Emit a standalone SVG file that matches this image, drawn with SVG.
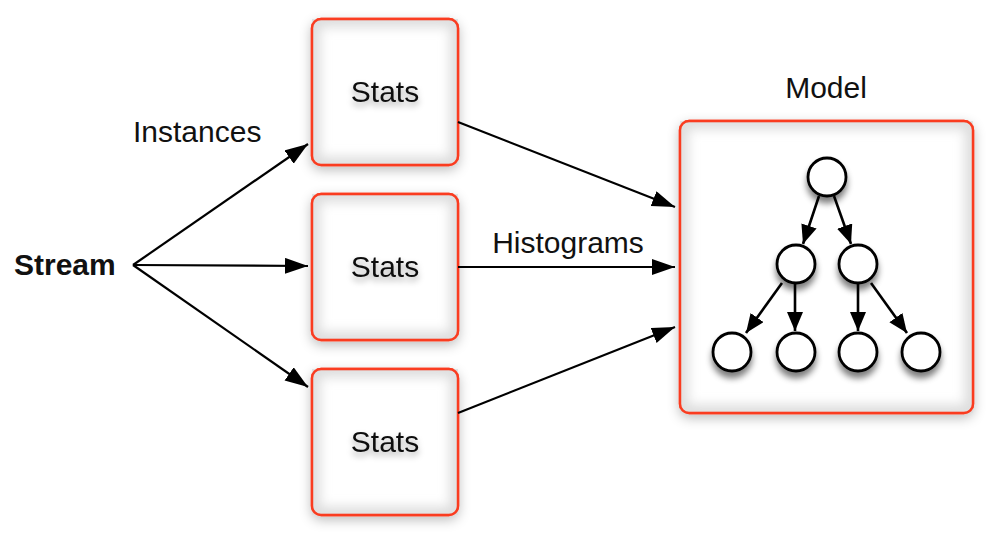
<svg xmlns="http://www.w3.org/2000/svg" width="1000" height="552" viewBox="0 0 1000 552">
<defs>
<style>
.box{fill:#fff;stroke:#fa3c20;stroke-width:2.4}
.inner{fill:none;stroke:#dcdcdc;stroke-width:16}
.lbl{font-family:"Liberation Sans",Arial,sans-serif;font-size:30px;fill:#111}
.edge{stroke:#000;stroke-width:2.2;fill:none}
.tedge{stroke:#000;stroke-width:2.6;fill:none}
.node{fill:#fff;stroke:#000;stroke-width:2.8}
</style>
<marker id="ah" markerUnits="userSpaceOnUse" markerWidth="24" markerHeight="18" refX="23" refY="8" orient="auto">
<path d="M0,0 L23,8 L0,16 z" fill="#000"/>
</marker>
<marker id="th" markerUnits="userSpaceOnUse" markerWidth="20" markerHeight="18" refX="19" refY="8" orient="auto">
<path d="M0,0 L19,8 L0,16 z" fill="#000"/>
</marker>
<filter id="boxsh" x="-20%" y="-20%" width="140%" height="140%">
<feGaussianBlur in="SourceAlpha" stdDeviation="6" result="b"/>
<feOffset in="b" dy="4" result="o"/>
<feFlood flood-color="#000" flood-opacity="0.25"/>
<feComposite in2="o" operator="in" result="s"/>
<feMerge><feMergeNode in="s"/><feMergeNode in="SourceGraphic"/></feMerge>
</filter>
<filter id="soft" x="-30%" y="-30%" width="160%" height="160%">
<feGaussianBlur stdDeviation="6"/>
</filter>
<filter id="txtsh" x="-20%" y="-40%" width="140%" height="200%">
<feGaussianBlur in="SourceAlpha" stdDeviation="3" result="b"/>
<feOffset in="b" dy="4" result="o"/>
<feFlood flood-color="#000" flood-opacity="0.35"/>
<feComposite in2="o" operator="in" result="s"/>
<feMerge><feMergeNode in="s"/><feMergeNode in="SourceGraphic"/></feMerge>
</filter>
<filter id="circsh" x="-50%" y="-50%" width="200%" height="220%">
<feGaussianBlur in="SourceAlpha" stdDeviation="3" result="b"/>
<feOffset in="b" dy="6" result="o"/>
<feFlood flood-color="#000" flood-opacity="0.5"/>
<feComposite in2="o" operator="in" result="s"/>
<feMerge><feMergeNode in="s"/><feMergeNode in="SourceGraphic"/></feMerge>
</filter>
<clipPath id="bb" clipPathUnits="objectBoundingBox"><rect x="0" y="0" width="1" height="1"/></clipPath>
</defs>
<rect width="1000" height="552" fill="#fff"/>

<g id="stream"><text class="lbl" x="14" y="275" font-weight="bold">Stream</text></g>

<g id="stats1">
<rect class="box" x="312" y="19" width="146" height="146" rx="9" filter="url(#boxsh)"/>
<rect class="inner" x="312" y="19" width="146" height="146" rx="9" filter="url(#soft)" clip-path="url(#bb)"/>
<rect x="312" y="19" width="146" height="146" rx="9" fill="none" stroke="#fa3c20" stroke-width="2.4"/>
<text class="lbl" x="385" y="102" text-anchor="middle" filter="url(#txtsh)">Stats</text>
</g>
<g id="stats2">
<rect class="box" x="312" y="194" width="146" height="146" rx="9" filter="url(#boxsh)"/>
<rect class="inner" x="312" y="194" width="146" height="146" rx="9" filter="url(#soft)" clip-path="url(#bb)"/>
<rect x="312" y="194" width="146" height="146" rx="9" fill="none" stroke="#fa3c20" stroke-width="2.4"/>
<text class="lbl" x="385" y="277" text-anchor="middle" filter="url(#txtsh)">Stats</text>
</g>
<g id="stats3">
<rect class="box" x="312" y="369" width="146" height="146" rx="9" filter="url(#boxsh)"/>
<rect class="inner" x="312" y="369" width="146" height="146" rx="9" filter="url(#soft)" clip-path="url(#bb)"/>
<rect x="312" y="369" width="146" height="146" rx="9" fill="none" stroke="#fa3c20" stroke-width="2.4"/>
<text class="lbl" x="385" y="452" text-anchor="middle" filter="url(#txtsh)">Stats</text>
</g>

<g id="model">
<text class="lbl" x="826" y="98" text-anchor="middle">Model</text>
<rect class="box" x="680" y="121" width="293" height="292" rx="9" filter="url(#boxsh)"/>
<rect class="inner" x="680" y="121" width="293" height="292" rx="9" filter="url(#soft)" clip-path="url(#bb)"/>
<rect x="680" y="121" width="293" height="292" rx="9" fill="none" stroke="#fa3c20" stroke-width="2.4"/>
<g id="tree-edges">
<line class="tedge" x1="819" y1="196" x2="803" y2="244" marker-end="url(#th)"/>
<line class="tedge" x1="834" y1="196" x2="851" y2="244" marker-end="url(#th)"/>
<line class="tedge" x1="782" y1="283" x2="746" y2="333" marker-end="url(#th)"/>
<line class="tedge" x1="795" y1="283" x2="795" y2="331" marker-end="url(#th)"/>
<line class="tedge" x1="858" y1="283" x2="858" y2="331" marker-end="url(#th)"/>
<line class="tedge" x1="871" y1="283" x2="907" y2="333" marker-end="url(#th)"/>
</g>
<g id="tree-nodes" filter="url(#circsh)">
<circle class="node" cx="827" cy="177" r="19"/>
<circle class="node" cx="796" cy="264" r="19"/>
<circle class="node" cx="858" cy="264" r="19"/>
<circle class="node" cx="732" cy="352" r="19"/>
<circle class="node" cx="796" cy="352" r="19"/>
<circle class="node" cx="858" cy="352" r="19"/>
<circle class="node" cx="921" cy="352" r="19"/>
</g>
</g>

<g id="connectors">
<line class="edge" x1="133" y1="265" x2="308" y2="144" marker-end="url(#ah)"/>
<line class="edge" x1="133" y1="265" x2="308" y2="266" marker-end="url(#ah)"/>
<line class="edge" x1="133" y1="265" x2="308" y2="387" marker-end="url(#ah)"/>
<line class="edge" x1="458" y1="122" x2="675" y2="207" marker-end="url(#ah)"/>
<line class="edge" x1="458" y1="267" x2="675" y2="267" marker-end="url(#ah)"/>
<line class="edge" x1="458" y1="413" x2="675" y2="327" marker-end="url(#ah)"/>
<text class="lbl" x="133" y="142">Instances</text>
<text class="lbl" x="568" y="253" text-anchor="middle">Histograms</text>
</g>
</svg>
